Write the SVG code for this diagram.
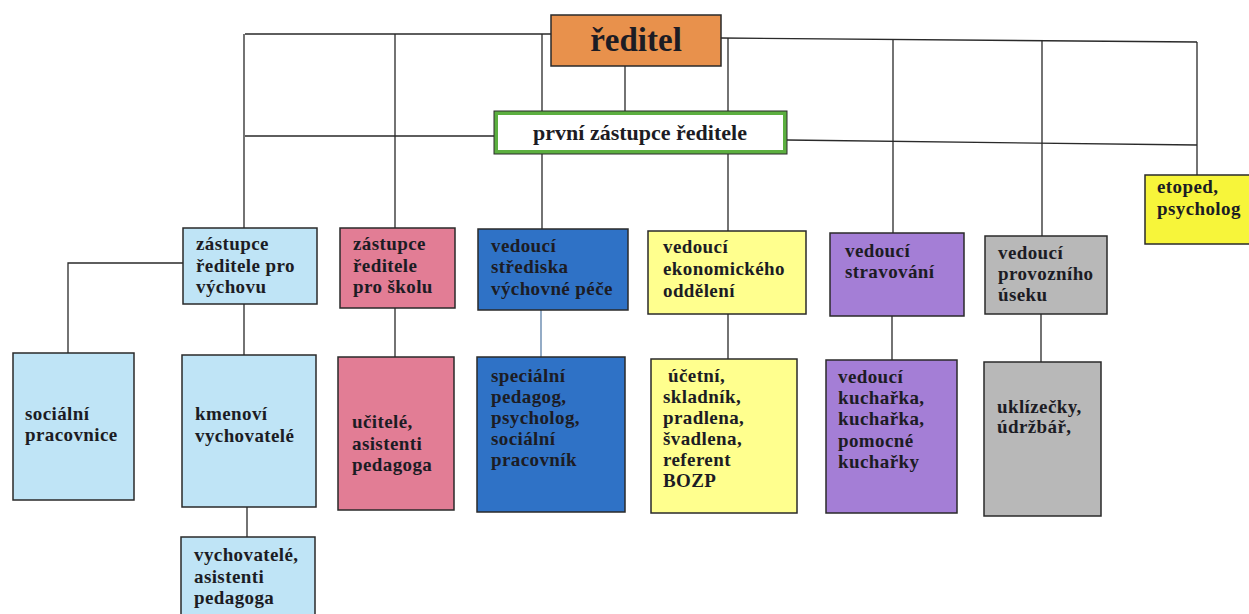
<svg xmlns="http://www.w3.org/2000/svg" width="1249" height="614" viewBox="0 0 1249 614">
<style>
  text { font-family: "Liberation Serif", "Times New Roman", "DejaVu Serif", serif; font-weight: bold; fill: #1c1c24; font-size: 19px; letter-spacing: 0.4px; }
  .box { stroke: #2a2a2a; stroke-width: 1.5; }
  .ln { stroke: #2a2a2a; stroke-width: 1.3; fill: none; }
  .blue { fill: #BFE4F6; }
  .pink { fill: #E27D95; }
  .dblue { fill: #2F72C6; }
  .yel { fill: #FFFF8E; }
  .purple { fill: #A47ED6; }
  .gray { fill: #B8B8B8; }
</style>
<rect width="1249" height="614" fill="#ffffff"/>
<g id="connectors">
  <path class="ln" d="M245,34 L551,34 M721,38 L1197,42"/>
  <path class="ln" d="M245,136 L494,136 M787,140 L1197,145"/>
  <path class="ln" d="M244,34 L244,228 M395,34 L395,228 M542,34 L542,229 M625,66 L625,112 M728,38 L728,231 M893,40 L893,233 M1042,41 L1042,236 M1197,42 L1197,175"/>
  <path class="ln" d="M183,263 L68,263 L68,353"/>
  <path class="ln" d="M244,304 L244,355 M395,308 L395,357 M728,314 L728,359 M892,316 L892,360 M1041,314 L1041,362 M247,507 L247,537"/>
  <path d="M541,310 L541,357" stroke="#5a7fa8" stroke-width="1.3"/>
</g>
<g id="reditel">
  <rect class="box" x="551" y="15" width="170" height="51" fill="#E8914C"/>
  <text x="636" y="51" text-anchor="middle" style="font-size:33px;letter-spacing:0">ředitel</text>
</g>
<g id="prvni-zastupce">
  <rect x="496" y="113" width="289" height="39" fill="#ffffff" stroke="#5CAF40" stroke-width="4"/>
  <rect x="494" y="111" width="293" height="43" fill="none" stroke="#2a2a2a" stroke-width="1"/>
  <text x="640" y="140" text-anchor="middle" style="font-size:22px;letter-spacing:0">první zástupce ředitele</text>
</g>
<g id="zastupce-vychova">
  <rect class="box blue" x="183" y="228" width="134" height="76"/>
  <text x="196" y="250">zástupce</text>
  <text x="196" y="272">ředitele pro</text>
  <text x="196" y="293">výchovu</text>
</g>
<g id="zastupce-skola">
  <rect class="box pink" x="340" y="228" width="115" height="80"/>
  <text x="353" y="250">zástupce</text>
  <text x="353" y="272">ředitele</text>
  <text x="353" y="293">pro školu</text>
</g>
<g id="vedouci-strediska">
  <rect class="box dblue" x="478" y="229" width="150" height="81"/>
  <text x="491" y="252">vedoucí</text>
  <text x="491" y="273">střediska</text>
  <text x="491" y="295">výchovné péče</text>
</g>
<g id="vedouci-ekonomickeho">
  <rect class="box yel" x="648" y="231" width="158" height="83"/>
  <text x="663" y="253">vedoucí</text>
  <text x="663" y="275">ekonomického</text>
  <text x="663" y="297">oddělení</text>
</g>
<g id="vedouci-stravovani">
  <rect class="box purple" x="830" y="233" width="134" height="83"/>
  <text x="845" y="257">vedoucí</text>
  <text x="845" y="278">stravování</text>
</g>
<g id="vedouci-provozniho">
  <rect class="box gray" x="985" y="236" width="122" height="78"/>
  <text x="998" y="259">vedoucí</text>
  <text x="998" y="280">provozního</text>
  <text x="998" y="301">úseku</text>
</g>
<g id="etoped">
  <rect class="box" x="1145" y="175" width="110" height="69" fill="#F7F53A"/>
  <text x="1157" y="193">etoped,</text>
  <text x="1157" y="215">psycholog</text>
</g>
<g id="socialni-pracovnice">
  <rect class="box blue" x="13" y="353" width="121" height="147"/>
  <text x="25" y="420">sociální</text>
  <text x="25" y="441">pracovnice</text>
</g>
<g id="kmenovi">
  <rect class="box blue" x="182" y="355" width="134" height="152"/>
  <text x="195" y="420">kmenoví</text>
  <text x="195" y="442">vychovatelé</text>
</g>
<g id="vychovatele">
  <rect class="box blue" x="181" y="537" width="134" height="90"/>
  <text x="194" y="561">vychovatelé,</text>
  <text x="194" y="583">asistenti</text>
  <text x="194" y="604">pedagoga</text>
</g>
<g id="ucitele">
  <rect class="box pink" x="338" y="357" width="116" height="153"/>
  <text x="352" y="428">učitelé,</text>
  <text x="352" y="450">asistenti</text>
  <text x="352" y="471">pedagoga</text>
</g>
<g id="specialni">
  <rect class="box dblue" x="477" y="357" width="148" height="155"/>
  <text x="491" y="382">speciální</text>
  <text x="491" y="403">pedagog,</text>
  <text x="491" y="424">psycholog,</text>
  <text x="491" y="445">sociální</text>
  <text x="491" y="466">pracovník</text>
</g>
<g id="ucetni">
  <rect class="box yel" x="651" y="359" width="146" height="154"/>
  <text x="668" y="382">účetní,</text>
  <text x="663" y="403">skladník,</text>
  <text x="663" y="424">pradlena,</text>
  <text x="663" y="445">švadlena,</text>
  <text x="663" y="466">referent</text>
  <text x="663" y="487">BOZP</text>
</g>
<g id="kucharky">
  <rect class="box purple" x="826" y="360" width="131" height="153"/>
  <text x="838" y="383">vedoucí</text>
  <text x="838" y="404">kuchařka,</text>
  <text x="838" y="425">kuchařka,</text>
  <text x="838" y="447">pomocné</text>
  <text x="838" y="468">kuchařky</text>
</g>
<g id="uklizecky">
  <rect class="box gray" x="984" y="362" width="117" height="154"/>
  <text x="997" y="413">uklízečky,</text>
  <text x="997" y="433">údržbář,</text>
</g>
</svg>
